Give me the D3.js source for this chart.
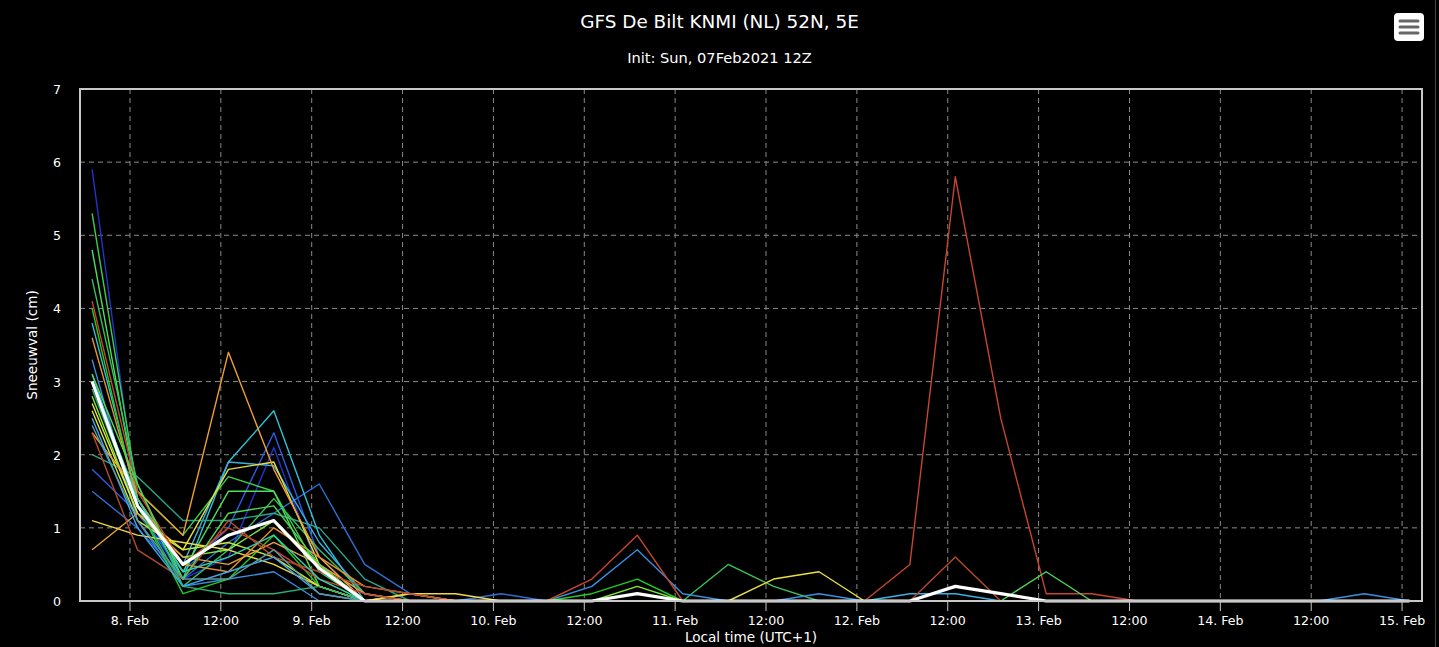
<!DOCTYPE html>
<html>
<head>
<meta charset="utf-8">
<script src="https://cdn.jsdelivr.net/npm/d3@7"></script>
<style>
  html, body { margin: 0; padding: 0; background: #000; overflow: hidden; }
  svg { display: block; }
</style>
</head>
<body>
<div id="chartArea"></div>
<script>
// forecast steps, 6 hourly, local time (UTC+1)
const times = [
  "2021-02-07T19:00", "2021-02-08T01:00", "2021-02-08T07:00", "2021-02-08T13:00", "2021-02-08T19:00",
  "2021-02-09T01:00", "2021-02-09T07:00", "2021-02-09T13:00", "2021-02-09T19:00",
  "2021-02-10T01:00", "2021-02-10T07:00", "2021-02-10T13:00", "2021-02-10T19:00",
  "2021-02-11T01:00", "2021-02-11T07:00", "2021-02-11T13:00", "2021-02-11T19:00",
  "2021-02-12T01:00", "2021-02-12T07:00", "2021-02-12T13:00", "2021-02-12T19:00",
  "2021-02-13T01:00", "2021-02-13T07:00", "2021-02-13T13:00", "2021-02-13T19:00",
  "2021-02-14T01:00", "2021-02-14T07:00", "2021-02-14T13:00", "2021-02-14T19:00",
  "2021-02-15T01:00"
];

const tickTimes = [
  "2021-02-08T00:00", "2021-02-08T12:00", "2021-02-09T00:00", "2021-02-09T12:00",
  "2021-02-10T00:00", "2021-02-10T12:00", "2021-02-11T00:00", "2021-02-11T12:00",
  "2021-02-12T00:00", "2021-02-12T12:00", "2021-02-13T00:00", "2021-02-13T12:00",
  "2021-02-14T00:00", "2021-02-14T12:00", "2021-02-15T00:00"
];
const tickLabels = [
  "8. Feb", "12:00", "9. Feb", "12:00", "10. Feb", "12:00", "11. Feb", "12:00",
  "12. Feb", "12:00", "13. Feb", "12:00", "14. Feb", "12:00", "15. Feb"
];
const yTicks = [0, 1, 2, 3, 4, 5, 6, 7];

// ensemble members, snowfall (cm) per 6h
const m01 = [5.9,1.3,0.3,0.6,2.1,0.4,0,0,0, 0,0,0,0, 0,0,0,0, 0,0,0,0, 0,0,0,0, 0,0,0,0, 0];
const m02 = [1.8,1.2,0.4,1.0,2.3,0.6,0,0,0, 0,0,0,0, 0,0,0,0, 0,0,0,0, 0,0,0,0, 0,0,0,0, 0];
const m03 = [1.5,1.0,0.3,0.8,1.2,1.6,0.5,0.1,0, 0.1,0,0,0, 0,0,0,0, 0,0,0,0, 0,0,0,0, 0,0,0,0, 0];
const m04 = [3.3,1.1,0.2,0.3,0.4,0,0,0,0, 0,0,0.2,0.7, 0.1,0,0,0.1, 0,0,0,0, 0,0,0,0, 0,0,0,0.1, 0];
const m05 = [3.8,1.4,0.3,1.9,2.6,0.9,0,0,0, 0,0,0,0, 0,0,0,0, 0,0,0,0, 0,0,0,0, 0,0,0,0, 0];
const m06 = [3.1,1.3,0.5,1.9,1.85,0.8,0.1,0,0, 0,0,0,0, 0,0,0,0, 0,0.1,0.1,0, 0,0,0,0, 0,0,0,0, 0];
const m07 = [2.0,1.7,1.1,1.1,1.2,1.0,0.3,0,0, 0,0,0,0, 0,0,0,0, 0,0,0,0, 0,0,0,0, 0,0,0,0, 0];
const m08 = [5.3,1.5,0.9,1.7,1.5,0.4,0,0,0, 0,0,0,0, 0,0,0,0, 0,0,0,0, 0,0,0,0, 0,0,0,0, 0];
const m09 = [4.8,1.4,0.4,1.5,1.5,0.2,0,0,0, 0,0,0,0, 0,0,0,0, 0,0,0,0, 0,0,0,0, 0,0,0,0, 0];
const m10 = [4.4,1.6,0.2,0.7,1.4,0.7,0.1,0,0, 0,0,0,0, 0,0,0,0, 0,0,0,0, 0,0,0,0, 0,0,0,0, 0];
const m11 = [4.0,1.3,0.1,0.3,0.9,0.2,0,0,0, 0,0,0.1,0.3, 0,0,0,0, 0,0,0,0, 0,0,0,0, 0,0,0,0, 0];
const m12 = [2.8,1.2,0.6,0.7,1.1,0.5,0,0,0, 0,0,0,0.2, 0,0,0,0, 0,0,0,0, 0,0,0,0, 0,0,0,0, 0];
const m13 = [2.6,1.1,0.7,0.8,0.6,0.2,0,0,0, 0,0,0,0, 0,0,0,0, 0,0,0,0, 0,0,0,0, 0,0,0,0, 0];
const m14 = [2.7,1.2,0.7,1.8,1.9,0.5,0,0.1,0, 0,0,0,0, 0,0,0.3,0.4, 0,0,0,0, 0,0,0,0, 0,0,0,0, 0];
const m15 = [1.1,0.9,0.8,0.7,0.5,0.2,0,0.1,0.1, 0,0,0,0, 0,0,0,0, 0,0,0,0, 0,0,0,0, 0,0,0,0, 0];
const m16 = [2.3,1.5,0.9,3.4,1.8,0.6,0,0,0, 0,0,0,0, 0,0,0,0, 0,0,0,0, 0,0,0,0, 0,0,0,0, 0];
const m17 = [3.6,1.4,0.5,0.4,1.0,0.6,0.2,0.1,0, 0,0,0,0, 0,0,0,0, 0,0,0,0, 0,0,0,0, 0,0,0,0, 0];
const m18 = [0.7,1.2,0.6,0.5,0.8,0.5,0.1,0,0, 0,0,0,0, 0,0,0,0, 0,0,0,0, 0,0,0,0, 0,0,0,0, 0];
const m19 = [4.1,1.5,0.5,1.0,0.7,0.3,0.1,0,0, 0,0,0.3,0.9, 0,0,0,0, 0,0.5,5.8,2.5, 0.1,0.1,0,0, 0,0,0,0, 0];
const m20 = [2.3,0.7,0.3,1.1,0.6,0.4,0.2,0.1,0, 0,0,0,0, 0,0,0,0, 0,0,0.6,0, 0,0,0,0, 0,0,0,0, 0];
const m21 = [2.9,1.3,0.2,0.1,0.1,0.2,0,0,0, 0,0,0,0, 0,0,0,0, 0,0,0,0, 0,0,0,0, 0,0,0,0, 0];
const m22 = [0,0,0,0,0,0,0,0,0, 0,0,0,0, 0,0.5,0.2,0, 0,0,0,0, 0,0,0,0, 0,0,0,0, 0];
const m23 = [3.0,1.4,0.4,0.6,0.9,0.3,0,0,0, 0,0,0,0, 0,0,0,0, 0,0,0,0, 0,0,0,0, 0,0,0,0, 0];
const m24 = [2.5,1.0,0.2,0.4,0.6,0.1,0,0,0, 0,0,0,0, 0,0,0,0, 0,0,0,0, 0,0,0,0, 0,0,0,0, 0];
const m25 = [3.1,1.6,0.3,1.2,1.3,0.5,0,0,0, 0,0,0,0, 0,0,0,0, 0,0,0,0, 0.4,0,0,0, 0,0,0,0, 0];
const m26 = [2.4,1.1,0.3,0.3,0.7,0.1,0,0,0, 0,0,0,0, 0,0,0,0, 0,0,0,0, 0,0,0,0, 0,0,0,0, 0];
const ensMean = [3.0,1.3,0.5,0.9,1.1,0.45,0,0,0, 0,0,0,0.1, 0,0,0,0, 0,0,0.2,0.1, 0,0,0,0, 0,0,0,0, 0];

const members = [m22, m01, m02, m03, m04, m05, m06, m07, m08, m09, m10, m11, m12, m13,
                 m14, m15, m16, m17, m18, m19, m20, m21, m23, m24, m25, m26];
const memberColors = ["#3cc45a", "#2233cc", "#2d5be3", "#2f6fd6", "#3a8ee0", "#2ec4d8", "#3ab0e0",
                      "#2aa58c", "#3cd04a", "#4ee05a", "#35c060", "#22cc22", "#7ee83a", "#c8e83c",
                      "#e8e040", "#f0d848", "#f0a030", "#e89030", "#e8a040", "#c8452e", "#b84a2a",
                      "#28b070", "#30d0b0", "#40a8f0", "#50d850", "#5a9aa0"];

const W = 1439, H = 647;
const plot = { left: 80, right: 1422, top: 89, bottom: 601 };
const parseT = d3.utcParse("%Y-%m-%dT%H:%M");

let svg = d3.select('#chartArea').append('svg')
  .attr('width', W)
  .attr('height', H)
  .style('font-family', '"DejaVu Sans", Verdana, sans-serif');

let x = d3.scaleUtc()
  .domain([parseT("2021-02-07T17:24"), parseT("2021-02-15T02:38")])
  .range([plot.left, plot.right]);
let y = d3.scaleLinear().domain([0, 7]).range([plot.bottom, plot.top]);

// grid
svg.append('g').selectAll('line').data(yTicks.slice(1, -1))
  .enter().append('line')
  .attr('x1', plot.left).attr('x2', plot.right)
  .attr('y1', d => y(d)).attr('y2', d => y(d))
  .attr('stroke', '#8a8a8a').attr('stroke-dasharray', '5,4');

svg.append('g').selectAll('line').data(tickTimes)
  .enter().append('line')
  .attr('x1', d => x(parseT(d))).attr('x2', d => x(parseT(d)))
  .attr('y1', plot.top).attr('y2', plot.bottom)
  .attr('stroke', '#8a8a8a').attr('stroke-dasharray', '5,4');

// series
let line = d3.line()
  .x((d, i) => x(parseT(times[i])))
  .y(d => y(d));

svg.append('g').selectAll('path').data(members)
  .enter().append('path')
  .attr('d', line)
  .attr('fill', 'none')
  .attr('stroke', (d, i) => memberColors[i])
  .attr('stroke-width', 1.4)
  .attr('stroke-linejoin', 'round');

svg.append('path')
  .datum(ensMean)
  .attr('d', line)
  .attr('fill', 'none')
  .attr('stroke', '#ffffff')
  .attr('stroke-width', 3.2)
  .attr('stroke-linejoin', 'round');

// plot frame
svg.append('rect')
  .attr('x', plot.left).attr('y', plot.top)
  .attr('width', plot.right - plot.left).attr('height', plot.bottom - plot.top)
  .attr('fill', 'none').attr('stroke', '#c8c8c8').attr('stroke-width', 2);

// x ticks and labels
svg.append('g').selectAll('line').data(tickTimes)
  .enter().append('line')
  .attr('x1', d => x(parseT(d))).attr('x2', d => x(parseT(d)))
  .attr('y1', plot.bottom + 1).attr('y2', plot.bottom + 10)
  .attr('stroke', '#c8c8c8');

svg.append('g').selectAll('text').data(tickTimes)
  .enter().append('text')
  .attr('x', d => x(parseT(d)))
  .attr('y', 625)
  .attr('text-anchor', 'middle')
  .attr('fill', '#ffffff')
  .style('font-size', '12.6px')
  .text((d, i) => tickLabels[i]);

// y labels
svg.append('g').selectAll('text').data(yTicks)
  .enter().append('text')
  .attr('x', 61)
  .attr('y', d => y(d) + 5)
  .attr('text-anchor', 'end')
  .attr('fill', '#ffffff')
  .style('font-size', '12.6px')
  .text(d => d);

// titles
svg.append('text')
  .attr('x', W / 2).attr('y', 28)
  .attr('text-anchor', 'middle').attr('fill', '#ffffff')
  .style('font-size', '18.4px')
  .text('GFS De Bilt KNMI (NL) 52N, 5E');

svg.append('text')
  .attr('x', W / 2).attr('y', 63)
  .attr('text-anchor', 'middle').attr('fill', '#ffffff')
  .style('font-size', '14.6px')
  .text('Init: Sun, 07Feb2021 12Z');

svg.append('text')
  .attr('transform', `translate(37,${(plot.top + plot.bottom) / 2}) rotate(-90)`)
  .attr('text-anchor', 'middle').attr('fill', '#ffffff')
  .style('font-size', '13.6px')
  .text('Sneeuwval (cm)');

svg.append('text')
  .attr('x', (plot.left + plot.right) / 2).attr('y', 642)
  .attr('text-anchor', 'middle').attr('fill', '#ffffff')
  .style('font-size', '13.6px')
  .text('Local time (UTC+1)');

// menu button
let menu = svg.append('g').attr('transform', 'translate(1394,13)');
menu.append('rect')
  .attr('width', 30).attr('height', 28).attr('rx', 4)
  .attr('fill', '#ffffff');
menu.selectAll('line').data([0, 1, 2])
  .enter().append('line')
  .attr('x1', 6).attr('x2', 24)
  .attr('y1', d => 8 + d * 6).attr('y2', d => 8 + d * 6)
  .attr('stroke', '#666').attr('stroke-width', 3).attr('stroke-linecap', 'round');

// page edges
svg.append('line').attr('x1', 1435.5).attr('x2', 1435.5).attr('y1', 0).attr('y2', H)
  .attr('stroke', '#444');
</script>
</body>
</html>
